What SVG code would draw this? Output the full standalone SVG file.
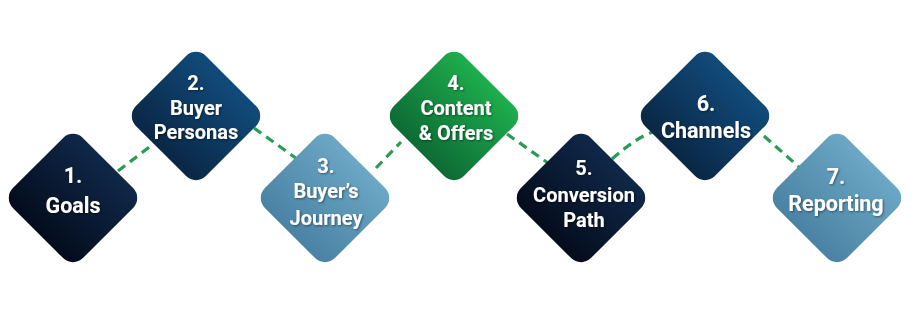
<svg xmlns="http://www.w3.org/2000/svg" width="919" height="335" viewBox="0 0 919 335">
  <style>
    .lbl { font-family: Roboto, "Open Sans", "DejaVu Sans", sans-serif; font-weight: 700; fill: #ffffff; text-anchor: middle; filter: url(#ts); }
    .s3 { font-size: 20px; }
    .s2 { font-size: 21.5px; }
    .conn { fill: none; stroke: #2a9a55; stroke-width: 3.2; stroke-dasharray: 9 6; }
  </style>
  <defs>
    <linearGradient id="gNavy" x1="0.5" y1="0" x2="0.5" y2="1">
      <stop offset="0" stop-color="#0f2849"/>
      <stop offset="1" stop-color="#040c1c"/>
    </linearGradient>
    <linearGradient id="gBlue" x1="0.5" y1="0" x2="0.5" y2="1">
      <stop offset="0" stop-color="#114b7b"/>
      <stop offset="1" stop-color="#0a2745"/>
    </linearGradient>
    <linearGradient id="gLight" x1="0.5" y1="0" x2="0.5" y2="1">
      <stop offset="0" stop-color="#6ca7c5"/>
      <stop offset="1" stop-color="#4a82a3"/>
    </linearGradient>
    <linearGradient id="gGreen" x1="0.5" y1="0" x2="0.5" y2="1">
      <stop offset="0" stop-color="#1eae4d"/>
      <stop offset="1" stop-color="#0d6a34"/>
    </linearGradient>
    <filter id="ts" x="-20%" y="-30%" width="140%" height="160%">
      <feDropShadow dx="1" dy="1" stdDeviation="0.8" flood-color="#000000" flood-opacity="0.45"/>
    </filter>
    <rect id="dia" x="-49.5" y="-49.5" width="99" height="99" rx="14" ry="14"/>
  </defs>

  <g id="connectors">
    <path class="conn" d="M118,171 L152,145"/>
    <path class="conn" d="M254,128 L297,159"/>
    <path class="conn" d="M376,168 L401,142"/>
    <path class="conn" d="M507,134 L548,163"/>
    <path class="conn" d="M612,159 Q637,137 653,132"/>
    <path class="conn" d="M764,136 L799,167"/>
  </g>

  <g id="node1">
    <use href="#dia" transform="translate(73,198) rotate(45)" fill="url(#gNavy)"/>
    <text class="lbl s2" x="73" y="183">1.</text>
    <text class="lbl s2" x="73" y="213">Goals</text>
  </g>
  <g id="node2">
    <use href="#dia" transform="translate(196,116) rotate(45)" fill="url(#gBlue)"/>
    <text class="lbl s3" x="196" y="90">2.</text>
    <text class="lbl s3" x="196" y="115">Buyer</text>
    <text class="lbl s3" x="196" y="139">Personas</text>
  </g>
  <g id="node3">
    <use href="#dia" transform="translate(325,198) rotate(45)" fill="url(#gLight)"/>
    <text class="lbl s3" x="326" y="173">3.</text>
    <text class="lbl s3" x="326" y="198">Buyer’s</text>
    <text class="lbl s3" x="326" y="225">Journey</text>
  </g>
  <g id="node4">
    <use href="#dia" transform="translate(454,116) rotate(45)" fill="url(#gGreen)"/>
    <text class="lbl s3" x="456" y="90">4.</text>
    <text class="lbl s3" x="456" y="115">Content</text>
    <text class="lbl s3" x="456" y="140">&amp; Offers</text>
  </g>
  <g id="node5">
    <use href="#dia" transform="translate(581,198) rotate(45)" fill="url(#gNavy)"/>
    <text class="lbl s3" x="584" y="175">5.</text>
    <text class="lbl s3" x="584" y="202">Conversion</text>
    <text class="lbl s3" x="584" y="227">Path</text>
  </g>
  <g id="node6">
    <use href="#dia" transform="translate(705,116) rotate(45)" fill="url(#gBlue)"/>
    <text class="lbl s2" x="706" y="111">6.</text>
    <text class="lbl s2" x="706" y="138">Channels</text>
  </g>
  <g id="node7">
    <use href="#dia" transform="translate(837,198) rotate(45)" fill="url(#gLight)"/>
    <text class="lbl s2" x="836" y="184">7.</text>
    <text class="lbl s2" x="836" y="211">Reporting</text>
  </g>
</svg>
